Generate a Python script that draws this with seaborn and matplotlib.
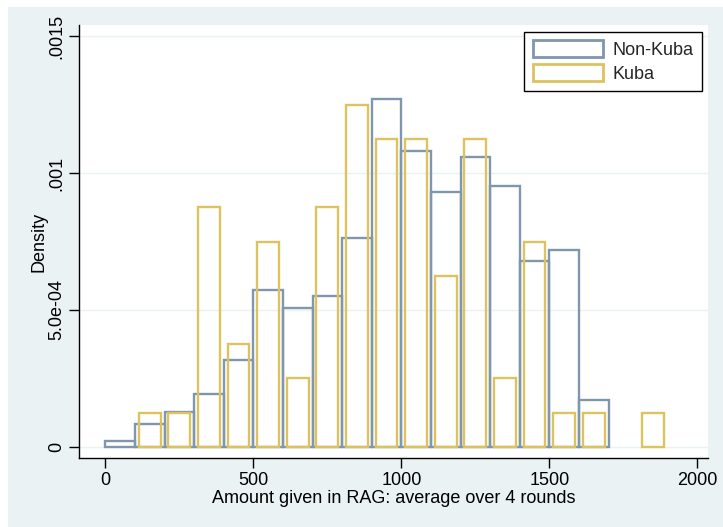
import matplotlib
matplotlib.use("Agg")
import matplotlib.pyplot as plt
from matplotlib.patches import Patch, Rectangle
import seaborn as sns
import numpy as np
import pandas as pd

# ---- data ----
bin_edges = [0, 100, 200, 300, 400, 500, 600, 700, 800, 900, 1000,
             1100, 1200, 1300, 1400, 1500, 1600, 1700, 1800, 1900]
bin_centers = [50, 150, 250, 350, 450, 550, 650, 750, 850, 950, 1050,
               1150, 1250, 1350, 1450, 1550, 1650, 1750, 1850]
nonkuba_density = [0.0000212, 0.0000847, 0.000127, 0.000191, 0.000318,
                   0.000572, 0.000508, 0.000551, 0.000763, 0.001271,
                   0.00108, 0.000932, 0.001059, 0.000953, 0.000678,
                   0.00072, 0.00017, 0.0, 0.0]
kuba_density = [0.0, 0.000125, 0.000125, 0.000875, 0.000375, 0.00075,
                0.00025, 0.000875, 0.00125, 0.001125, 0.001125, 0.000625,
                0.001125, 0.00025, 0.00075, 0.000125, 0.000125, 0.0,
                0.000125]
series_names = ["Non-Kuba", "Kuba"]
x_ticks = [0, 500, 1000, 1500, 2000]
y_ticks = [0, 0.0005, 0.001, 0.0015]
y_tick_labels = ["0", "5.0e-04", ".001", ".0015"]
x_label = "Amount given in RAG: average over 4 rounds"
y_label = "Density"

nk_color = "#7f96ad"
k_color = "#dcc35f"
bg = "#eaf2f3"
FS = 13

sns.set_theme(style="white")
plt.rcParams["font.family"] = ["Liberation Sans", "DejaVu Sans"]

fig = plt.figure(figsize=(7.23, 5.27), dpi=100, facecolor="white")
fig.patches.append(Rectangle((8 / 723, 0), 1 - 8 / 723, 1 - 7 / 527,
                             transform=fig.transFigure, facecolor=bg,
                             edgecolor="none", zorder=-10))
ax = fig.add_axes([79 / 723, (527 - 458) / 527, (708 - 79) / 723, (458 - 25) / 527])
ax.set_zorder(1)
ax.set_facecolor("white")

df_nk = pd.DataFrame({"x": bin_centers, "w": nonkuba_density})
df_k = pd.DataFrame({"x": bin_centers, "w": kuba_density})

sns.histplot(data=df_nk, x="x", weights="w", bins=bin_edges, stat="count",
             element="bars", fill=False, color=nk_color, linewidth=1.7,
             ax=ax, zorder=3)
sns.histplot(data=df_k, x="x", weights="w", bins=bin_edges, stat="count",
             element="bars", fill=False, color=k_color, linewidth=1.7,
             shrink=0.74, ax=ax, zorder=4)
# hide empty bins (no outline drawn for zero-height bars)
for p in ax.patches:
    if abs(p.get_height()) < 1e-12:
        p.set_visible(False)

ax.set_xlim(-89, 2036)
ax.set_ylim(-0.0000413, 0.001542)
ax.set_xticks(x_ticks)
ax.set_xticklabels([str(t) for t in x_ticks], fontsize=FS)
ax.set_yticks(y_ticks)
ax.set_yticklabels(y_tick_labels, fontsize=FS, rotation=90, va="center")
ax.yaxis.grid(True, color=bg, linewidth=1.0, zorder=0)
ax.xaxis.grid(False)
ax.set_axisbelow(True)
ax.tick_params(axis="both", which="major", direction="out", length=7,
               width=1.0, color="black", pad=3, labelcolor="black",
               bottom=True, left=True)
for s in ["top", "right"]:
    ax.spines[s].set_visible(False)
for s in ["left", "bottom"]:
    ax.spines[s].set_visible(True)
    ax.spines[s].set_color("black")
    ax.spines[s].set_linewidth(1.0)

ax.set_xlabel(x_label, fontsize=FS, labelpad=1, color="black")
ax.set_ylabel(y_label, fontsize=FS, labelpad=0.5, color="black")

handles = [Patch(facecolor="white", edgecolor=nk_color, linewidth=2.0, label=series_names[0]),
           Patch(facecolor="white", edgecolor=k_color, linewidth=2.0, label=series_names[1])]
leg = ax.legend(handles=handles, loc="upper right",
                bbox_to_anchor=(702 / 723, 1 - 31.7 / 527),
                bbox_transform=fig.transFigure, fontsize=FS,
                frameon=True, fancybox=False, framealpha=1,
                handlelength=3.9, handleheight=1.08, labelspacing=0.32,
                handletextpad=0.55, borderpad=0.45, borderaxespad=0)
leg.get_frame().set_edgecolor("black")
leg.get_frame().set_linewidth(1.0)

fig.savefig("out.png", dpi=100, facecolor=fig.get_facecolor())
